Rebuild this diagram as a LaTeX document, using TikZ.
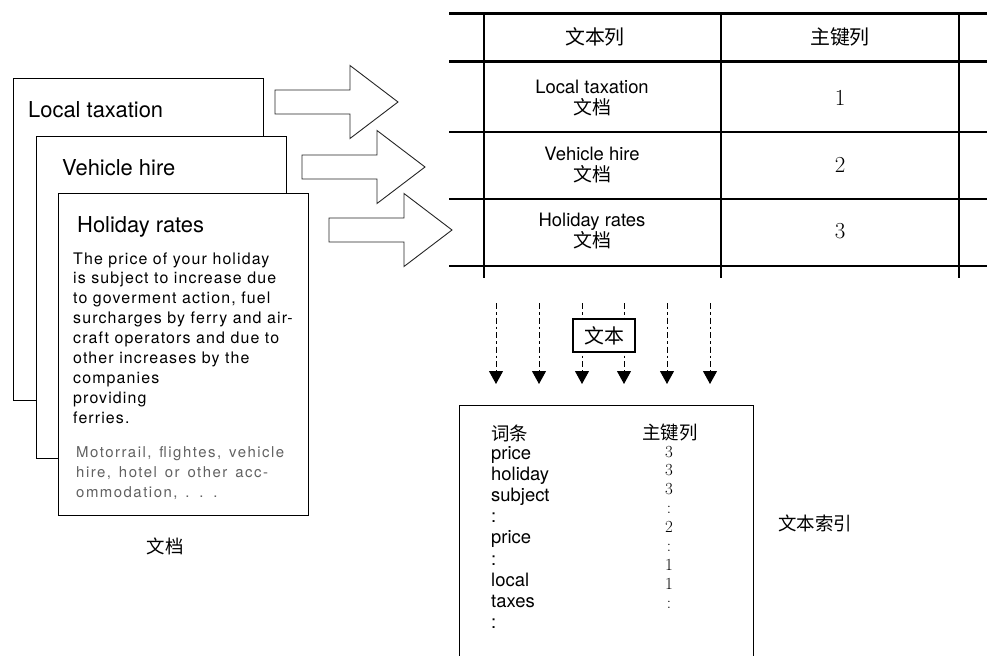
\documentclass[tikz,border=0pt]{standalone}
\usepackage{fontspec}
\newfontfamily\hv{TeX Gyre Heros}
\newfontfamily\hvsp{TeX Gyre Heros}[LetterSpace=7]
\newfontfamily\hvwide{TeX Gyre Heros}[LetterSpace=10,WordSpace=1.4]
\newfontfamily\cjk{Noto Sans CJK SC}
\usetikzlibrary{arrows.meta}
\definecolor{txtgray}{gray}{0.38}

\begin{document}
\begin{tikzpicture}[x=1bp,y=-1bp,
		page/.style={draw,fill=white,line width=1.2bp,anchor=north west,inner sep=0,minimum width=250bp,minimum height=322bp},
		ttl/.style={anchor=base west,inner sep=0,font=\hv\fontsize{22}{22}\selectfont},
		body/.style={anchor=base west,inner sep=0,font=\hvsp\fontsize{16}{20}\selectfont},
		note/.style={body,text=txtgray,font=\hvwide\fontsize{15}{20}\selectfont},
		blockarr/.style={draw=black!85,line width=0.9bp,fill=white},
		hdr/.style={inner sep=0,font=\cjk\fontsize{20}{20}\selectfont},
		cell/.style={align=center,inner sep=0,font=\hv\fontsize{18.5}{22}\selectfont},
		num/.style={inner sep=0,font=\fontsize{23}{23}\selectfont},
		flow/.style={line width=1bp,dash pattern=on 6bp off 3bp on 2.5bp off 3bp,-{Triangle[width=14bp,length=13bp]}},
		keybox/.style={draw,fill=white,line width=1.3bp,inner sep=0,minimum width=62bp,minimum height=33bp,font=\cjk\fontsize{20}{20}\selectfont},
		word/.style={anchor=base west,inner sep=0,font=\hv\fontsize{18.5}{18.5}\selectfont},
		idxnum/.style={anchor=base,inner sep=0,font=\fontsize{17}{17}\selectfont},
		cjklabel/.style={inner sep=0,font=\cjk\fontsize{18.5}{18.5}\selectfont}]
	\useasboundingbox (0,0) rectangle (987,656);

	% documents
	\node[page] (page1) at (13,78) {};
	\node[ttl] (t1) at (28,118) {Local taxation};
	\node[page] (page2) at (36,136) {};
	\node[ttl] (t2) at (62,176) {Vehicle hire};
	\node[page] (page3) at (58,193) {};
	\node[ttl] (t3) at (77,232) {Holiday rates};
	\foreach \l [count=\i] in {The price of your holiday,is subject to increase due,{to goverment action, fuel},surcharges by ferry and air-,craft operators and due to,other increases by the,companies,providing,ferries.}{
		\node[body] (b\i) at (73,{264+19.9*(\i-1)}) {\l};
	};
	\foreach \l [count=\i] in {{Motorrail, flightes, vehicle},{hire, hotel or other acc-},{ommodation, . . .}}{
		\node[note] (n\i) at (76,{457+20*(\i-1)}) {\l};
	};
	\node[cjklabel] (doclabel) at (165,546) {文档};

	% block arrows
	\foreach \x/\y in {275/102,302/167,329/230}{
		\draw[blockarr] (\x,\y-12) -- ++(75,0) -- ++(0,-24.5) -- ++(48,36.5) -- ++(-48,36.5) -- ++(0,-24.5) -- ++(-75,0) -- cycle;
	};

	% table
	\foreach \y/\w in {14/3bp,62/3bp,132/1.1bp,199/1.1bp,266/1.1bp}{
		\draw[line width=\w] (449,\y) -- (987,\y);
	};
	\foreach \x in {484,721,959}{
		\draw[line width=1.1bp] (\x,14) -- (\x,278);
	};
	\node[hdr] (hd-text) at (595,37) {文本列};
	\node[hdr] (hd-key) at (840,37) {主键列};
	\foreach \t/\k/\y [count=\i] in {Local taxation/1/98,Vehicle hire/2/165,Holiday rates/3/231}{
		\node[cell] (doc\i) at (592,\y) {\t\\{\cjk\fontsize{19}{22}\selectfont 文档}};
		\node[num] (key\i) at (840,\y) {\k};
	};

	% indexing
	\foreach \x [count=\i] in {496,539,582,624,667,710}{
		\coordinate (s\i) at (\x,303);
		\coordinate (e\i) at (\x,384);
		\draw[flow] (s\i) -- (e\i);
	};
	\node[keybox] (txt) at (604,335.5) {文本};

	\node[draw,line width=1.2bp,anchor=north west,inner sep=0,minimum width=294bp,minimum height=262bp] (idx) at (459,405) {};
	\node[cjklabel,anchor=west] (term) at (491,433) {词条};
	\node[cjklabel] (pkey) at (670,433) {主键列};
	\foreach \w [count=\i] in {price,holiday,subject,:,price,:,local,taxes,:}{
		\node[word] (w\i) at (491,{459+21.2*(\i-1)}) {\w};
	};
	\foreach \k [count=\i] in {3,3,3,:,2,:,1,1,:}{
		\node[idxnum] (k\i) at (669,{457+18.9*(\i-1)}) {\k};
	};
	\node[cjklabel] (idxlabel) at (815,523) {文本索引};
\end{tikzpicture}
\end{document}
